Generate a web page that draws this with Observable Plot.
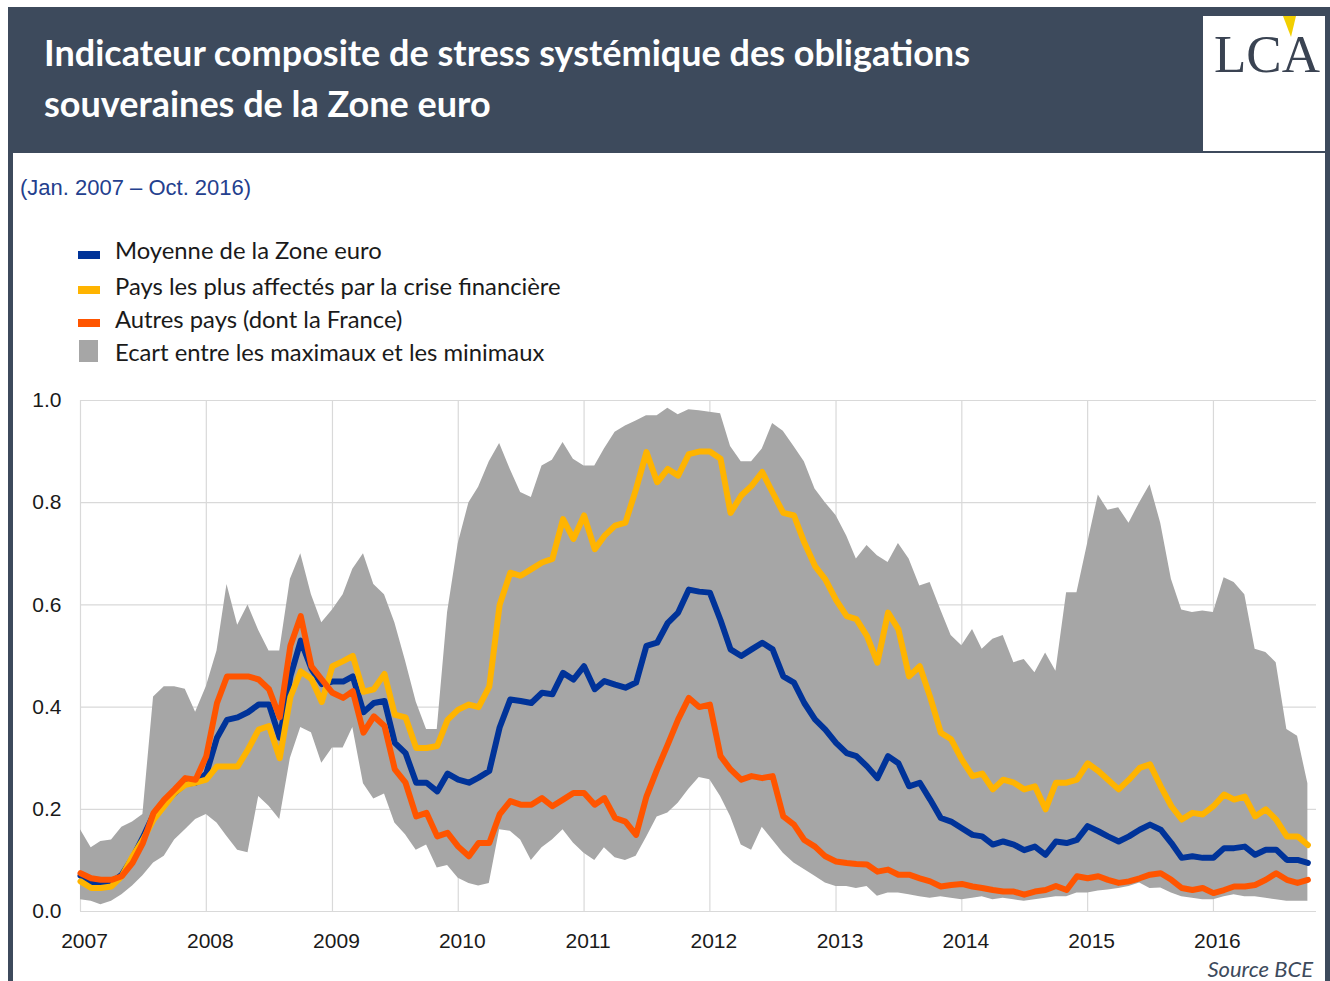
<!DOCTYPE html>
<html><head><meta charset="utf-8">
<script src="https://cdn.jsdelivr.net/npm/d3@7"></script>
<script src="https://cdn.jsdelivr.net/npm/@observablehq/plot@0.6"></script>
<style>
html,body{margin:0;padding:0;background:#fff;}
#page{position:relative;width:1330px;height:981px;overflow:hidden;background:#fff;}
#deco{position:absolute;left:0;top:0;}
#chart{position:absolute;left:0;top:380px;}
</style></head>
<body><div id="page">
<svg id="deco" width="1330" height="981">
  <rect x="8" y="7" width="1322" height="146" fill="#3d4a5c"/>
  <rect x="8" y="7" width="5" height="974" fill="#3d4a5c"/>
  <rect x="1325" y="7" width="5" height="974" fill="#3d4a5c"/>
  <text x="44" y="66" font-family="Lato" font-weight="700" font-size="36" fill="#ffffff">Indicateur composite de stress systémique des obligations</text>
  <text x="44" y="117" font-family="Lato" font-weight="700" font-size="36" fill="#ffffff">souveraines de la Zone euro</text>
  <rect x="1203" y="16" width="122" height="135" fill="#ffffff"/>
  <text x="1214" y="72" font-family="Liberation Serif" font-size="53" fill="#3a4352">LCA</text>
  <polygon points="1283,16 1296,16 1291,37" fill="#f2cf00"/>
  <text x="20" y="195" font-family="Liberation Sans" font-size="22" fill="#24408e">(Jan. 2007 – Oct. 2016)</text>
  <rect x="78" y="251" width="22" height="8" fill="#003399"/>
  <rect x="78" y="286" width="22" height="8" fill="#ffb400"/>
  <rect x="78" y="319" width="22" height="8" fill="#ff5500"/>
  <rect x="79" y="340" width="19" height="22" fill="#a6a6a6"/>
  <g font-family="Lato" font-size="23.8" fill="#1a1a1a">
    <text x="115" y="259">Moyenne de la Zone euro</text>
    <text x="115" y="295">Pays les plus affectés par la crise financière</text>
    <text x="115" y="328">Autres pays (dont la France)</text>
    <text x="115" y="361">Ecart entre les maximaux et les minimaux</text>
  </g>
  <text x="1313" y="977" text-anchor="end" font-family="Lato" font-style="italic" font-size="22" fill="#3d4a5c">Source BCE</text>
</svg>
<div id="chart"></div>
</div>
<script>
// Monthly values, Jan 2007 – Oct 2016 (118 months)
const moyenne = [0.07,0.058,0.055,0.057,0.072,0.105,0.145,0.19,0.212,0.232,0.25,0.252,
0.27,0.34,0.375,0.38,0.39,0.405,0.405,0.34,0.46,0.53,0.475,0.445,
0.45,0.45,0.46,0.39,0.408,0.412,0.33,0.31,0.252,0.252,0.235,0.27,
0.258,0.252,0.262,0.275,0.36,0.415,0.412,0.408,0.428,0.425,0.467,0.454,
0.48,0.435,0.451,0.444,0.438,0.448,0.52,0.526,0.565,0.585,0.63,0.626,
0.624,0.57,0.513,0.50,0.513,0.526,0.513,0.46,0.448,0.408,0.376,0.356,
0.33,0.31,0.304,0.284,0.261,0.304,0.29,0.245,0.252,0.219,0.183,0.176,
0.163,0.15,0.147,0.131,0.137,0.131,0.12,0.127,0.111,0.137,0.134,0.14,
0.167,0.157,0.147,0.137,0.147,0.16,0.17,0.16,0.134,0.105,0.108,0.105,
0.105,0.124,0.124,0.127,0.111,0.121,0.121,0.101,0.101,0.095];
const paysAffectes = [0.059,0.046,0.046,0.049,0.069,0.108,0.14,0.18,0.206,0.232,0.248,0.252,
0.258,0.284,0.284,0.284,0.317,0.356,0.363,0.30,0.42,0.47,0.455,0.41,
0.48,0.49,0.50,0.43,0.435,0.465,0.385,0.38,0.32,0.32,0.324,0.375,
0.395,0.405,0.40,0.44,0.60,0.663,0.657,0.67,0.683,0.69,0.768,0.729,
0.775,0.709,0.735,0.755,0.761,0.827,0.899,0.84,0.866,0.853,0.895,0.90,
0.90,0.886,0.78,0.814,0.833,0.86,0.82,0.78,0.775,0.722,0.676,0.65,
0.61,0.578,0.572,0.539,0.487,0.585,0.552,0.46,0.48,0.42,0.35,0.337,
0.297,0.265,0.27,0.239,0.258,0.252,0.239,0.245,0.20,0.252,0.252,0.258,
0.29,0.275,0.258,0.239,0.258,0.281,0.288,0.245,0.206,0.18,0.193,0.19,
0.206,0.229,0.219,0.225,0.186,0.20,0.18,0.147,0.147,0.13];
const autresPays = [0.075,0.065,0.062,0.062,0.069,0.095,0.134,0.193,0.219,0.239,0.261,0.258,
0.304,0.408,0.46,0.46,0.46,0.454,0.435,0.38,0.52,0.578,0.48,0.454,
0.428,0.418,0.431,0.35,0.382,0.363,0.278,0.252,0.186,0.193,0.147,0.154,
0.127,0.108,0.134,0.134,0.19,0.216,0.209,0.209,0.222,0.206,0.219,0.232,
0.232,0.209,0.222,0.183,0.176,0.15,0.225,0.278,0.327,0.376,0.418,0.40,
0.405,0.304,0.278,0.258,0.265,0.261,0.265,0.186,0.17,0.14,0.127,0.108,
0.098,0.095,0.093,0.092,0.078,0.082,0.072,0.072,0.065,0.059,0.049,0.052,
0.054,0.049,0.046,0.042,0.039,0.039,0.033,0.039,0.042,0.05,0.042,0.069,
0.065,0.069,0.062,0.056,0.059,0.065,0.072,0.075,0.062,0.046,0.042,0.046,
0.036,0.042,0.049,0.049,0.052,0.062,0.075,0.062,0.056,0.062];
const ecartMax = [0.16,0.125,0.137,0.14,0.165,0.175,0.19,0.42,0.44,0.44,0.435,0.39,
0.44,0.51,0.64,0.56,0.60,0.55,0.51,0.51,0.65,0.70,0.62,0.565,
0.59,0.62,0.67,0.70,0.64,0.62,0.565,0.49,0.41,0.356,0.356,0.585,
0.72,0.80,0.83,0.88,0.916,0.865,0.82,0.81,0.872,0.883,0.918,0.885,
0.872,0.872,0.905,0.938,0.95,0.96,0.97,0.97,0.985,0.972,0.982,0.98,
0.977,0.974,0.91,0.88,0.88,0.905,0.955,0.94,0.91,0.88,0.827,0.80,
0.775,0.735,0.69,0.716,0.696,0.683,0.72,0.69,0.637,0.644,0.59,0.54,
0.52,0.552,0.513,0.533,0.54,0.487,0.493,0.467,0.506,0.47,0.624,0.624,
0.72,0.815,0.785,0.79,0.76,0.80,0.835,0.76,0.65,0.59,0.585,0.588,
0.585,0.653,0.644,0.62,0.513,0.507,0.487,0.356,0.343,0.25];
const ecartMin = [0.023,0.02,0.013,0.02,0.033,0.05,0.07,0.095,0.108,0.14,0.16,0.18,
0.19,0.173,0.147,0.12,0.115,0.225,0.206,0.18,0.30,0.36,0.35,0.29,
0.32,0.32,0.36,0.25,0.22,0.23,0.173,0.15,0.12,0.13,0.085,0.09,
0.065,0.055,0.05,0.055,0.16,0.157,0.14,0.10,0.125,0.14,0.16,0.134,
0.114,0.10,0.125,0.105,0.10,0.108,0.145,0.185,0.193,0.212,0.239,0.262,
0.258,0.225,0.186,0.13,0.12,0.165,0.14,0.114,0.095,0.082,0.069,0.056,
0.049,0.049,0.045,0.049,0.03,0.036,0.036,0.033,0.029,0.026,0.029,0.026,
0.023,0.026,0.029,0.023,0.026,0.023,0.02,0.023,0.026,0.029,0.029,0.036,
0.036,0.04,0.042,0.045,0.049,0.056,0.045,0.046,0.036,0.029,0.026,0.023,
0.023,0.029,0.033,0.029,0.029,0.026,0.023,0.02,0.02,0.02];
const yearTicks = [2007,2008,2009,2010,2011,2012,2013,2014,2015,2016];
const yTicks = [0,0.2,0.4,0.6,0.8,1.0];

const start = new Date(Date.UTC(2007,0,1));
const dates = d3.utcMonth.range(start, new Date(Date.UTC(2016,10,1)));
const rows = dates.map((d,i)=>({date:d, max:ecartMax[i], min:ecartMin[i], moy:moyenne[i], aff:paysAffectes[i], aut:autresPays[i]}));
const yearDates = yearTicks.map(y=>new Date(Date.UTC(y,0,1)));

const chart = Plot.plot({
  width:1330, height:600,
  marginLeft:80, marginRight:14, marginTop:20, marginBottom:69,
  style:{fontFamily:"Liberation Sans", fontSize:"21px", color:"#1a1a1a", background:"transparent", overflow:"visible"},
  x:{type:"utc", domain:[start, new Date(Date.UTC(2016,9,26))]},
  y:{domain:[0,1]},
  marks:[
    Plot.ruleY(yTicks, {stroke:"#d9d9d9", strokeWidth:1.2}),
    Plot.ruleX(yearDates, {stroke:"#d9d9d9", strokeWidth:1.2}),
    Plot.areaY(rows, {x:"date", y1:"min", y2:"max", fill:"#a6a6a6"}),
    Plot.lineY(rows, {x:"date", y:"moy", stroke:"#003399", strokeWidth:6}),
    Plot.lineY(rows, {x:"date", y:"aff", stroke:"#ffb400", strokeWidth:6}),
    Plot.lineY(rows, {x:"date", y:"aut", stroke:"#ff5500", strokeWidth:6}),
    Plot.axisX(yearDates, {tickFormat:d3.utcFormat("%Y"), tickSize:0, tickPadding:22, dx:4, fontSize:21, label:null}),
    Plot.axisY(yTicks, {tickFormat:d3.format(".1f"), tickSize:0, tickPadding:19, fontSize:21, label:null})
  ]
});
document.getElementById("chart").appendChild(chart);
</script>
</body></html>
